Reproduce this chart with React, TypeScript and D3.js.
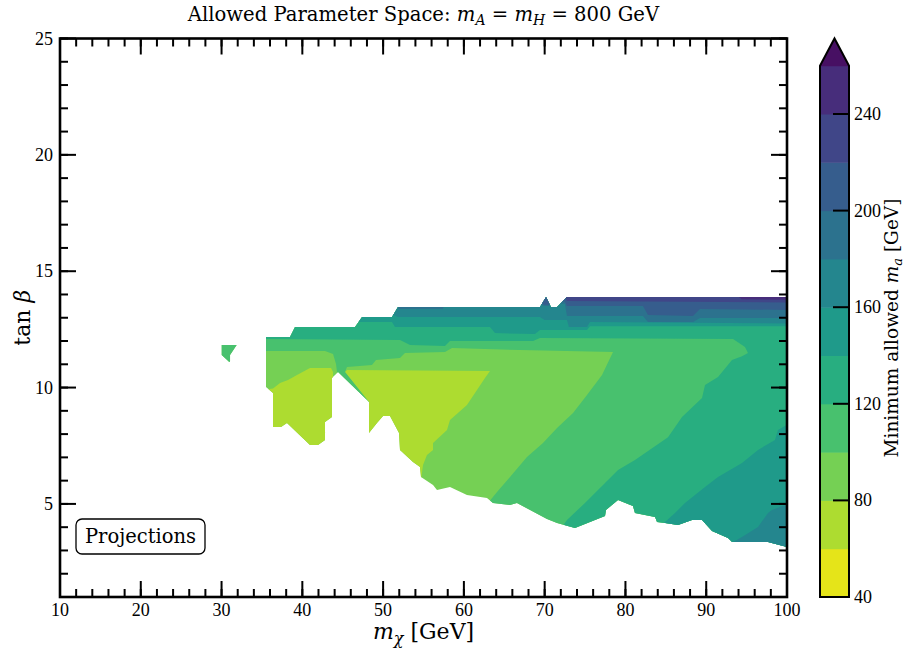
import React from 'react';
import * as d3 from 'd3';

type Pt = [number, number];

// ---------- axis / colour data ----------
const xMajorTicks = [10, 20, 30, 40, 50, 60, 70, 80, 90, 100];
const yMajorTicks = [5, 10, 15, 20, 25];
const colorLevels = [40, 60, 80, 100, 120, 140, 160, 180, 200, 220, 240, 260];
const colorbarTicks = [40, 80, 120, 160, 200, 240];

// ---------- allowed (non-excluded) region in (m_chi, tan beta) ----------
const allowedRegion: Pt[] = [
  [35.5, 12.17], [38.47, 12.17], [39.09, 12.6], [46.52, 12.6], [47.39, 13.03], [51.1, 13.03],
  [51.84, 13.46], [69.42, 13.46], [70.17, 13.89], [70.78, 13.46], [71.53, 13.46], [72.76, 13.89],
  [100, 13.89], [100, 3.15], [97.65, 3.36], [93.2, 3.36], [92.7, 3.54], [90.72, 3.84], [89.48, 4.31],
  [88.24, 4.31], [86.51, 4.09], [84.9, 4.18], [83.91, 4.22], [83.66, 4.44], [81.18, 4.61], [80.93, 4.91],
  [79.08, 5.17], [77.59, 4.74], [77.47, 4.48], [73.75, 3.96], [71.53, 4.18], [70.29, 4.35], [66.57, 5.04],
  [65.71, 4.95], [63.6, 5.04], [62.86, 5.25], [60.38, 5.38], [58.28, 5.73], [56.67, 5.6], [56.18, 5.81],
  [54.69, 6.16], [54.57, 6.59], [53.7, 6.8], [52.09, 7.32], [51.97, 8.05], [50.85, 8.78], [49.99, 8.78],
  [49.24, 8.48], [48.25, 8.05], [48.25, 9.38], [48.01, 9.47], [44.42, 10.67], [43.67, 10.41],
  [43.67, 8.74], [42.81, 8.52], [42.81, 7.75], [41.94, 7.53], [40.95, 7.53], [38.1, 8.48],
  [37.36, 8.31], [36.37, 8.31], [36.37, 9.77], [35.5, 10.02],
];
const allowedPatch: Pt[] = [
  [30.02, 11.83], [31.87, 11.83], [31.05, 11.4], [31.05, 11.11], [30.92, 11.11], [30.02, 11.4],
];

// ---------- filled contour regions ----------
// value < 80
const below80Left: Pt[] = [
  [35.0, 9.9], [36.37, 9.96], [37.24, 10.2], [38.23, 10.33], [39.34, 10.54], [40.95, 10.84],
  [43.55, 10.84], [43.8, 10.67], [43.8, 6.46], [35.0, 6.46],
];
const below80Right: Pt[] = [
  [45.28, 10.67], [45.53, 10.75], [63.23, 10.71], [62.61, 10.41], [61.62, 9.89], [60.38, 9.25],
  [58.28, 8.61], [57.91, 8.18], [56.18, 7.62], [56.18, 7.32], [55.43, 7.1], [54.94, 6.67],
  [54.69, 6.03], [48.25, 6.03], [48.25, 9.38],
];
// value >= level (contour line followed by an outer closure)
const above100: Pt[] = [
  [35.5, 11.57], [42.81, 11.57], [43.8, 11.44], [44.17, 11.01], [44.29, 10.67], [47.88, 9.38],
  [48.25, 9.38], [45.28, 10.67], [45.53, 10.88], [48.62, 10.97], [49.12, 11.18], [52.09, 11.27],
  [52.71, 11.48], [57.66, 11.53], [58.53, 11.7], [66.95, 11.61], [78.46, 11.53], [77.1, 10.54],
  [75.24, 9.68], [73.51, 8.91], [71.53, 8.26], [69.79, 7.62], [67.81, 7.02], [65.71, 6.16],
  [64.1, 5.51], [62.99, 5.04], [62.61, 4.31],
  [62.61, 0], [102, 0], [102, 15], [27, 15], [27, 10.67], [33.52, 10.67], [33.52, 11.57],
];
const above120: Pt[] = [
  [35.5, 12.09], [52.09, 12.04], [53.33, 11.83], [57.66, 11.79], [58.28, 12.0], [68.56, 12.0],
  [69.42, 12.13], [93.32, 12.09], [94.8, 11.74], [95.17, 11.48], [94.43, 11.35], [93.19, 11.18],
  [91.46, 10.45], [89.85, 10.11], [89.48, 9.55], [87.0, 8.73], [85.27, 7.87], [81.18, 6.89],
  [79.08, 6.46], [77.47, 5.9], [74.99, 5.04], [72.76, 4.31], [71.89, 3.88], [71.28, 3.23],
  [71.28, 0], [102, 0], [102, 15], [27, 15], [27, 12.09],
];
const above140Top: Pt[] = [
  [27, 12.7], [46.52, 12.7], [46.89, 12.82], [51.1, 12.82], [51.47, 12.6], [63.23, 12.6],
  [63.85, 12.34], [68.8, 12.3], [69.42, 12.47], [75.24, 12.47], [75.61, 12.64], [102, 12.64],
  [102, 15], [27, 15],
];
const above140Bottom: Pt[] = [
  [102, 8.48], [100.37, 8.48], [98.88, 8.18], [98.51, 7.75], [96.41, 7.32], [94.43, 6.76],
  [91.46, 6.16], [89.85, 5.73], [87.37, 5.04], [86.13, 4.61], [84.9, 4.22], [84.53, 4.09],
  [83.66, 3.66], [83.66, 0], [102, 0],
];
const above160Top: Pt[] = [
  [27, 13.1], [51.47, 13.1], [51.84, 13.03], [69.42, 13.03], [70.0, 12.9], [72.76, 12.9],
  [73.0, 12.6], [75.24, 12.6], [75.61, 12.82], [102, 12.75], [102, 15], [27, 15],
];
const above160Bottom: Pt[] = [
  [102, 5.04], [100.37, 5.04], [98.14, 4.74], [97.65, 4.61], [96.41, 4.01], [94.43, 3.58],
  [93.32, 3.36], [92.7, 3.1], [92.7, 0], [102, 0],
];
const above180: Pt[] = [
  [27, 13.6], [51.84, 13.6], [51.9, 13.38], [57.4, 13.38], [57.6, 13.6], [69.3, 13.6], [69.9, 13.5],
  [70.5, 13.5], [71.0, 13.6], [72.5, 13.6], [72.76, 13.07], [82.17, 13.07], [82.79, 12.82],
  [88.36, 12.82], [89.23, 12.99], [102, 12.99], [102, 15], [27, 15],
];
const above200: Pt[] = [
  [27, 13.7], [69.3, 13.7], [69.9, 13.56], [70.5, 13.56], [71.0, 13.7], [72.5, 13.7], [72.76, 13.5],
  [82.17, 13.5], [82.79, 13.12], [88.36, 13.07], [89.23, 13.38], [102, 13.33], [102, 15], [27, 15],
];
const above220: Pt[] = [
  [27, 13.95], [72.5, 13.95], [72.76, 13.72], [102, 13.65], [102, 15], [27, 15],
];
const above240: Pt[] = [
  [27, 13.95], [93.8, 13.95], [94.4, 13.8], [102, 13.76], [102, 15], [27, 15],
];

const regions: { level: number; polys: Pt[][] }[] = [
  { level: 100, polys: [above100] },
  { level: 120, polys: [above120] },
  { level: 140, polys: [above140Top, above140Bottom] },
  { level: 160, polys: [above160Top, above160Bottom] },
  { level: 180, polys: [above180] },
  { level: 200, polys: [above200] },
  { level: 220, polys: [above220] },
  { level: 240, polys: [above240] },
];

// ---------- layout ----------
const W = 907;
const H = 653;
const P = { left: 60, right: 787, top: 38.5, bottom: 597 };
const CB = { left: 820, right: 849, top: 65.7, tip: 38.5, bottom: 597 };
const TEXT_FONT = '"DejaVu Serif", "Liberation Serif", serif';
const NUM_FONT = '"Liberation Serif", "DejaVu Serif", serif';

// 11 bands + 1 extension band, viridis reversed
const nBands = colorLevels.length; // 11 finite + 1 "over"
const bandColor = (i: number) => d3.interpolateViridis(1 - (2 * i + 1) / (2 * nBands));
const overColor = bandColor(nBands - 1);
const levelColor = (lvl: number) => bandColor(colorLevels.indexOf(lvl));

export default function App() {
  const x = d3.scaleLinear().domain([10, 100]).range([P.left, P.right]);
  const y = d3.scaleLinear().domain([1, 25]).range([P.bottom, P.top]);
  const cb = d3.scaleLinear().domain([colorLevels[0], colorLevels[colorLevels.length - 1]]).range([CB.bottom, CB.top]);
  const line = d3.line<Pt>().x((d) => x(d[0])).y((d) => y(d[1]));
  const poly = (pts: Pt[]) => (line(pts) || '') + 'Z';

  const xMinor = d3.range(10, 100.001, 2);
  const yMinor = d3.range(1, 25.001, 1);
  const MAJ = 16;
  const MIN = 8;

  return (
    <svg width={W} height={H} style={{ position: 'absolute', left: 0, top: 0, background: '#fff' }}
      fontFamily={TEXT_FONT}>
      <defs>
        <clipPath id="allowed">
          <path d={poly(allowedRegion) + poly(allowedPatch)} />
        </clipPath>
      </defs>

      {/* filled contours */}
      <g clipPath="url(#allowed)">
        <rect x={P.left} y={P.top} width={P.right - P.left} height={P.bottom - P.top} fill={levelColor(80)} />
        <path d={poly(below80Left) + poly(below80Right)} fill={levelColor(60)} />
        {regions.map((r) => (
          <path key={r.level} d={r.polys.map(poly).join('')} fill={levelColor(r.level)} />
        ))}
      </g>

      {/* ticks */}
      <g stroke="#000" strokeWidth={2}>
        {xMinor.map((v) => (
          <g key={'xm' + v}>
            <line x1={x(v)} x2={x(v)} y1={P.bottom} y2={P.bottom - MIN} />
            <line x1={x(v)} x2={x(v)} y1={P.top} y2={P.top + MIN} />
          </g>
        ))}
        {xMajorTicks.map((v) => (
          <g key={'xM' + v}>
            <line x1={x(v)} x2={x(v)} y1={P.bottom} y2={P.bottom - MAJ} />
            <line x1={x(v)} x2={x(v)} y1={P.top} y2={P.top + MAJ} />
          </g>
        ))}
        {yMinor.map((v) => (
          <g key={'ym' + v}>
            <line x1={P.left} x2={P.left + MIN} y1={y(v)} y2={y(v)} />
            <line x1={P.right} x2={P.right - MIN} y1={y(v)} y2={y(v)} />
          </g>
        ))}
        {yMajorTicks.map((v) => (
          <g key={'yM' + v}>
            <line x1={P.left} x2={P.left + MAJ} y1={y(v)} y2={y(v)} />
            <line x1={P.right} x2={P.right - MAJ} y1={y(v)} y2={y(v)} />
          </g>
        ))}
      </g>
      <rect x={P.left} y={P.top} width={P.right - P.left} height={P.bottom - P.top}
        fill="none" stroke="#000" strokeWidth={2.6} />

      {/* tick labels */}
      <g fontSize={18} fill="#000" fontFamily={NUM_FONT}>
        {xMajorTicks.map((v) => (
          <text key={'xl' + v} x={x(v)} y={P.bottom + 19} textAnchor="middle">{v}</text>
        ))}
        {yMajorTicks.map((v) => (
          <text key={'yl' + v} x={P.left - 7} y={y(v) + 6} textAnchor="end">{v}</text>
        ))}
      </g>

      {/* title */}
      <text x={(P.left + P.right) / 2} y={21} textAnchor="middle" fontSize={19.6}>
        Allowed Parameter Space:{' '}
        <tspan fontStyle="italic">m</tspan>
        <tspan fontStyle="italic" fontSize={14} dy={4}>A</tspan>
        <tspan dy={-4}> = </tspan>
        <tspan fontStyle="italic">m</tspan>
        <tspan fontStyle="italic" fontSize={14} dy={4}>H</tspan>
        <tspan dy={-4}> = 800 GeV</tspan>
      </text>

      {/* x label */}
      <text x={(P.left + P.right) / 2} y={639} textAnchor="middle" fontSize={22}>
        <tspan fontStyle="italic">m</tspan>
        <tspan fontStyle="italic" fontSize={16} dy={5}>χ</tspan>
        <tspan dy={-5}> [GeV]</tspan>
      </text>

      {/* y label */}
      <text transform={`translate(30, ${(P.top + P.bottom) / 2}) rotate(-90)`} textAnchor="middle" fontSize={22}>
        tan <tspan fontStyle="italic">β</tspan>
      </text>

      {/* projections box */}
      <rect x={76} y={519} width={129} height={35} rx={6} ry={6} fill="#fff" stroke="#000" strokeWidth={1.3} />
      <text x={140.5} y={543} textAnchor="middle" fontSize={19.5}>Projections</text>

      {/* colorbar */}
      <g>
        {colorLevels.slice(0, -1).map((lv, i) => (
          <rect key={'cb' + lv} x={CB.left} width={CB.right - CB.left}
            y={cb(colorLevels[i + 1])} height={cb(lv) - cb(colorLevels[i + 1]) + 0.5}
            fill={bandColor(i)} />
        ))}
        <path d={`M${CB.left},${CB.top + 0.5}L${(CB.left + CB.right) / 2},${CB.tip}L${CB.right},${CB.top + 0.5}Z`}
          fill={overColor} />
        <g stroke="#000" strokeWidth={2}>
          {colorbarTicks.map((v) => (
            <line key={'cbt' + v} x1={CB.right} x2={CB.right - MAJ} y1={cb(v)} y2={cb(v)} />
          ))}
        </g>
        <path d={`M${CB.left},${CB.bottom}L${CB.left},${CB.top}L${(CB.left + CB.right) / 2},${CB.tip}L${CB.right},${CB.top}L${CB.right},${CB.bottom}Z`}
          fill="none" stroke="#000" strokeWidth={2} strokeLinejoin="miter" />
        <g fontSize={18} fontFamily={NUM_FONT}>
          {colorbarTicks.map((v) => (
            <text key={'cbl' + v} x={CB.right + 5} y={cb(v) + 6}>{v}</text>
          ))}
        </g>
        <text transform={`translate(898, 328) rotate(-90)`} textAnchor="middle" fontSize={18.5}>
          Minimum allowed <tspan fontStyle="italic">m</tspan>
          <tspan fontStyle="italic" fontSize={13} dy={4}>a</tspan>
          <tspan dy={-4}> [GeV]</tspan>
        </text>
      </g>
    </svg>
  );
}
